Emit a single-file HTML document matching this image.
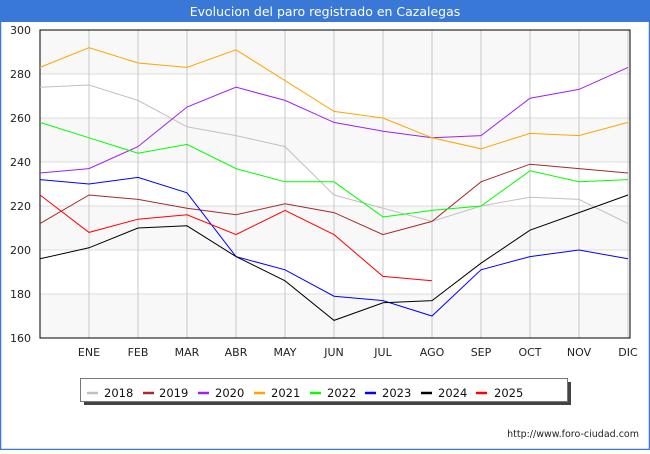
<!DOCTYPE html>
<html><head><meta charset="utf-8"><style>
body{margin:0;width:650px;height:450px;overflow:hidden;font-family:"DejaVu Sans","Liberation Sans",sans-serif;}
</style></head><body>
<svg width="650" height="450" xmlns="http://www.w3.org/2000/svg" font-family="DejaVu Sans, Liberation Sans, sans-serif">
<rect x="0" y="0" width="650" height="450" fill="#fff"/>
<rect x="0.5" y="0.5" width="649" height="449" fill="none" stroke="#3a78d8" stroke-width="1.5"/>
<rect x="0" y="0" width="650" height="22" fill="#3a78d8"/>
<text x="325" y="16" text-anchor="middle" fill="#fff" font-size="12.5">Evolucion del paro registrado en Cazalegas</text>
<g fill="#f8f8f8">
<rect x="40" y="30" width="590" height="44"/>
<rect x="40" y="118" width="590" height="44"/>
<rect x="40" y="206" width="590" height="44"/>
<rect x="40" y="294" width="590" height="44"/>
</g>
<g stroke="#ddd" stroke-width="1">
<line x1="40" y1="74" x2="630" y2="74"/><line x1="40" y1="118" x2="630" y2="118"/>
<line x1="40" y1="162" x2="630" y2="162"/><line x1="40" y1="206" x2="630" y2="206"/>
<line x1="40" y1="250" x2="630" y2="250"/><line x1="40" y1="294" x2="630" y2="294"/>
</g>
<g stroke="#c8c8c8" stroke-width="1">
<line x1="89" y1="30" x2="89" y2="338"/><line x1="138" y1="30" x2="138" y2="338"/>
<line x1="187" y1="30" x2="187" y2="338"/><line x1="236" y1="30" x2="236" y2="338"/>
<line x1="285" y1="30" x2="285" y2="338"/><line x1="334" y1="30" x2="334" y2="338"/>
<line x1="383" y1="30" x2="383" y2="338"/><line x1="432" y1="30" x2="432" y2="338"/>
<line x1="481" y1="30" x2="481" y2="338"/><line x1="530" y1="30" x2="530" y2="338"/>
<line x1="579" y1="30" x2="579" y2="338"/><line x1="628" y1="30" x2="628" y2="338"/>
</g>
<rect x="40" y="30" width="590" height="308" fill="none" stroke="#000" stroke-width="1"/>
<g font-size="11" fill="#222" text-anchor="end">
<text x="31" y="34">300</text><text x="31" y="78">280</text><text x="31" y="122">260</text>
<text x="31" y="166">240</text><text x="31" y="210">220</text><text x="31" y="254">200</text>
<text x="31" y="298">180</text><text x="31" y="342">160</text>
</g>
<g font-size="11" fill="#222" text-anchor="middle">
<text x="89" y="356">ENE</text><text x="138" y="356">FEB</text><text x="187" y="356">MAR</text>
<text x="236" y="356">ABR</text><text x="285" y="356">MAY</text><text x="334" y="356">JUN</text>
<text x="383" y="356">JUL</text><text x="432" y="356">AGO</text><text x="481" y="356">SEP</text>
<text x="530" y="356">OCT</text><text x="579" y="356">NOV</text><text x="628" y="356">DIC</text>
</g>
<g fill="none" stroke-width="1">
<polyline stroke="#c0c0c0" points="40,87.2 89,85 138,100.4 187,126.8 236,135.6 285,146.6 334,195 383,208.2 432,221.4 481,206 530,197.2 579,199.4 628,223.6"/>
<polyline stroke="#a52a2a" points="40,223.6 89,195 138,199.4 187,208.2 236,214.8 285,203.8 334,212.6 383,234.6 432,221.4 481,181.8 530,164.2 579,168.6 628,173"/>
<polyline stroke="#a020f0" points="40,173 89,168.6 138,146.6 187,107 236,87.2 285,100.4 334,122.4 383,131.2 432,137.8 481,135.6 530,98.2 579,89.4 628,67.4"/>
<polyline stroke="#ffa500" points="40,67.4 89,47.6 138,63 187,67.4 236,49.8 285,80.6 334,111.4 383,118 432,137.8 481,148.8 530,133.4 579,135.6 628,122.4"/>
<polyline stroke="#00ff00" points="40,122.4 89,137.8 138,153.2 187,144.4 236,168.6 285,181.8 334,181.8 383,217 432,210.4 481,206 530,170.8 579,181.8 628,179.6"/>
<polyline stroke="#0000ff" points="40,179.6 89,184 138,177.4 187,192.8 236,256.6 285,269.8 334,296.2 383,300.6 432,316 481,269.8 530,256.6 579,250 628,258.8"/>
<polyline stroke="#000000" points="40,258.8 89,247.8 138,228 187,225.8 236,256.6 285,280.8 334,320.4 383,302.8 432,300.6 481,263.2 530,230.2 579,212.6 628,195"/>
<polyline stroke="#ff0000" points="40,195 89,232.4 138,219.2 187,214.8 236,234.6 285,210.4 334,234.6 383,276.4 432,280.8"/>
</g>
<rect x="84" y="382" width="487" height="23" fill="#444"/>
<rect x="80.5" y="378.5" width="487" height="23" fill="#fff" stroke="#777"/>
<g stroke-width="2.5">
<line x1="87" y1="393" x2="98" y2="393" stroke="#c0c0c0"/>
<line x1="143" y1="393" x2="154" y2="393" stroke="#a52a2a"/>
<line x1="198" y1="393" x2="209" y2="393" stroke="#a020f0"/>
<line x1="254" y1="393" x2="265" y2="393" stroke="#ffa500"/>
<line x1="310" y1="393" x2="321" y2="393" stroke="#00ff00"/>
<line x1="365" y1="393" x2="376" y2="393" stroke="#0000ff"/>
<line x1="421" y1="393" x2="432" y2="393" stroke="#000"/>
<line x1="476" y1="393" x2="487" y2="393" stroke="#ff0000"/>
</g>
<g font-size="11.5" fill="#111">
<text x="104" y="397">2018</text><text x="159" y="397">2019</text><text x="215" y="397">2020</text>
<text x="271" y="397">2021</text><text x="327" y="397">2022</text><text x="382" y="397">2023</text>
<text x="438" y="397">2024</text><text x="494" y="397">2025</text>
</g>
<text x="639" y="437" text-anchor="end" font-size="9.5" fill="#222">http://www.foro-ciudad.com</text>
</svg>
</body></html>
